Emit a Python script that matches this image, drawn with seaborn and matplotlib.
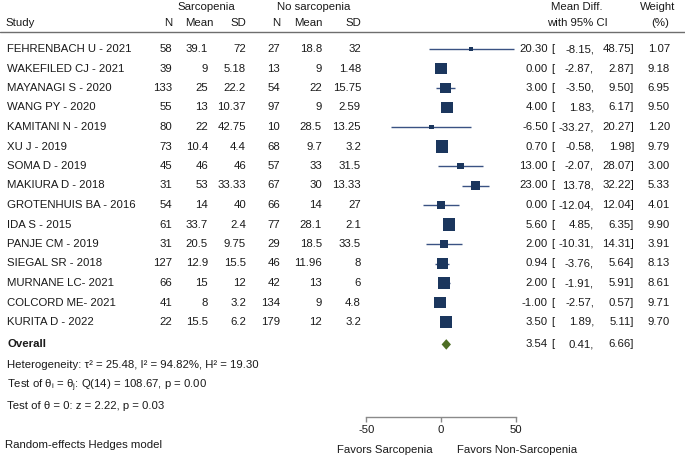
import matplotlib
matplotlib.use("Agg")
import matplotlib.pyplot as plt
import matplotlib.transforms as mtransforms
import numpy as np
import pandas as pd
import seaborn as sns

# ---------------- data ----------------
studies = ["FEHRENBACH U - 2021", "WAKEFILED CJ - 2021", "MAYANAGI S - 2020", "WANG PY - 2020",
           "KAMITANI N - 2019", "XU J - 2019", "SOMA D - 2019", "MAKIURA D - 2018",
           "GROTENHUIS BA - 2016", "IDA S - 2015", "PANJE CM - 2019", "SIEGAL SR - 2018",
           "MURNANE LC- 2021", "COLCORD ME- 2021", "KURITA D - 2022"]
sarc_n = ["58", "39", "133", "55", "80", "73", "45", "31", "54", "61", "31", "127", "66", "41", "22"]
sarc_mean = ["39.1", "9", "25", "13", "22", "10.4", "46", "53", "14", "33.7", "20.5", "12.9", "15", "8", "15.5"]
sarc_sd = ["72", "5.18", "22.2", "10.37", "42.75", "4.4", "46", "33.33", "40", "2.4", "9.75", "15.5", "12", "3.2", "6.2"]
nos_n = ["27", "13", "54", "97", "10", "68", "57", "67", "66", "77", "29", "46", "42", "134", "179"]
nos_mean = ["18.8", "9", "22", "9", "28.5", "9.7", "33", "30", "14", "28.1", "18.5", "11.96", "13", "9", "12"]
nos_sd = ["32", "1.48", "15.75", "2.59", "13.25", "3.2", "31.5", "13.33", "27", "2.1", "33.5", "8", "6", "4.8", "3.2"]
md = [20.30, 0.00, 3.00, 4.00, -6.50, 0.70, 13.00, 23.00, 0.00, 5.60, 2.00, 0.94, 2.00, -1.00, 3.50]
ci_lo = [-8.15, -2.87, -3.50, 1.83, -33.27, -0.58, -2.07, 13.78, -12.04, 4.85, -10.31, -3.76, -1.91, -2.57, 1.89]
ci_hi = [48.75, 2.87, 9.50, 6.17, 20.27, 1.98, 28.07, 32.22, 12.04, 6.35, 14.31, 5.64, 5.91, 0.57, 5.11]
weight = [1.07, 9.18, 6.95, 9.50, 1.20, 9.79, 3.00, 5.33, 4.01, 9.90, 3.91, 8.13, 8.61, 9.71, 9.70]
overall_md, overall_lo, overall_hi = 3.54, 0.41, 6.66
x_ticks = [-50, 0, 50]

df = pd.DataFrame({"study": studies, "md": md, "lo": ci_lo, "hi": ci_hi, "weight": weight})
df["row"] = np.arange(len(df))

# ---------------- style ----------------
sns.set_theme(style="white")
plt.rcParams["font.family"] = ["Liberation Sans", "DejaVu Sans"]
plt.rcParams["mathtext.fontset"] = "custom"
plt.rcParams["mathtext.rm"] = "Liberation Sans"
plt.rcParams["mathtext.it"] = "Liberation Sans"
plt.rcParams["mathtext.bf"] = "Liberation Sans:bold"

W, H = 685, 457
FS = 8.2
TXT = "#1a1a1a"
NAVY = "#1b365d"
LINE = "#3a5283"
GREEN = "#4e6e24"
AXC = "#8a8a8a"

fig = plt.figure(figsize=(W / 100, H / 100), dpi=100)

# forest axes: pixel extents
px_l, px_r, px_t, px_b = 340, 540, 32, 417
ax = fig.add_axes([px_l / W, 1 - px_b / H, (px_r - px_l) / W, (px_b - px_t) / H])
x0, scale = 441.0, 1.493          # pixel of 0 and pixels per unit
row0, step = 49.0, 19.5           # pixel of first row and row spacing
ax.set_xlim((px_l - x0) / scale, (px_r - x0) / scale)
ax.set_ylim((px_b - row0) / step, (px_t - row0) / step)

# CI lines
ax.hlines(df["row"], df["lo"], df["hi"], color=LINE, lw=1.0, zorder=2)
# weighted squares
wmin, wmax = df["weight"].min(), df["weight"].max()
k = (3.85 * 0.72) ** 2
sns.scatterplot(data=df, x="md", y="row", size="weight", sizes=(k * wmin * 1.2, k * wmax),
                size_norm=(wmin, wmax), marker="s", color=NAVY, linewidth=0,
                legend=False, ax=ax, zorder=3)
# overall diamond
ov_row = 15.15
dh = 0.27
ax.fill([overall_lo, overall_md, overall_hi, overall_md],
        [ov_row, ov_row - dh, ov_row, ov_row + dh], color=GREEN, lw=0, zorder=3)

# axis styling
for s in ["top", "left", "right"]:
    ax.spines[s].set_visible(False)
ax.spines["bottom"].set_bounds(min(x_ticks), max(x_ticks))
ax.spines["bottom"].set_color(AXC)
ax.spines["bottom"].set_linewidth(1.0)
ax.set_xticks(x_ticks)
ax.set_xticklabels([str(t) for t in x_ticks])
ax.tick_params(axis="x", bottom=True, direction="out", length=3.5, width=1.0, color=AXC,
               labelsize=FS, labelcolor=TXT, pad=2)
ax.set_yticks([])
ax.set_xlabel("")
ax.set_ylabel("")
ax.patch.set_alpha(0)

# ---------------- text ----------------
bt = mtransforms.blended_transform_factory(fig.transFigure, ax.transData)

def ftext(px, py, s, ha="left", **kw):
    fig.text(px / W, 1 - py / H, s, ha=ha, va="center", fontsize=FS, color=TXT, **kw)

def rtext(px, row, s, ha="left", **kw):
    fig.text(px / W, row, s, ha=ha, va="center", fontsize=FS, color=TXT, transform=bt, **kw)

# headers
ftext(206, 7, "Sarcopenia", ha="center")
ftext(314, 7, "No sarcopenia", ha="center")
ftext(577, 7, "Mean Diff.", ha="center")
ftext(658, 7, "Weight", ha="center")
ftext(5, 23, "Study")
ftext(172, 23, "N", ha="right")
ftext(199, 23, "Mean", ha="center")
ftext(246, 23, "SD", ha="right")
ftext(280, 23, "N", ha="right")
ftext(308, 23, "Mean", ha="center")
ftext(361, 23, "SD", ha="right")
ftext(577, 23, "with 95% CI", ha="center")
ftext(660, 23, "(%)", ha="center")
fig.add_artist(plt.Line2D([0, 1], [1 - 31.5 / H, 1 - 31.5 / H], transform=fig.transFigure,
                          color="#6e6e6e", lw=1.0))

for i in range(len(studies)):
    rtext(7, i, studies[i])
    rtext(172, i, sarc_n[i], ha="right")
    rtext(208, i, sarc_mean[i], ha="right")
    rtext(246, i, sarc_sd[i], ha="right")
    rtext(280, i, nos_n[i], ha="right")
    rtext(322, i, nos_mean[i], ha="right")
    rtext(361, i, nos_sd[i], ha="right")
    rtext(548, i, f"{md[i]:.2f}", ha="right")
    rtext(551, i, "[")
    rtext(594, i, f"{ci_lo[i]:.2f},", ha="right")
    rtext(634, i, f"{ci_hi[i]:.2f}]", ha="right")
    rtext(670, i, f"{weight[i]:.2f}", ha="right")

rtext(7, ov_row, "Overall", fontweight="bold")
rtext(548, ov_row, f"{overall_md:.2f}", ha="right")
rtext(551, ov_row, "[")
rtext(594, ov_row, f"{overall_lo:.2f},", ha="right")
rtext(634, ov_row, f"{overall_hi:.2f}]", ha="right")

ftext(7, 365, "Heterogeneity: τ² = 25.48, I² = 94.82%, H² = 19.30")
ftext(7, 386, r"Test of $\theta_i$ = $\theta_j$: Q(14) = 108.67, p = 0.00")
ftext(7, 406, "Test of θ = 0: z = 2.22, p = 0.03")
ftext(5, 445, "Random-effects Hedges model")
ftext(385, 450, "Favors Sarcopenia", ha="center")
ftext(517, 450, "Favors Non-Sarcopenia", ha="center")

fig.savefig("out.png", dpi=100)
